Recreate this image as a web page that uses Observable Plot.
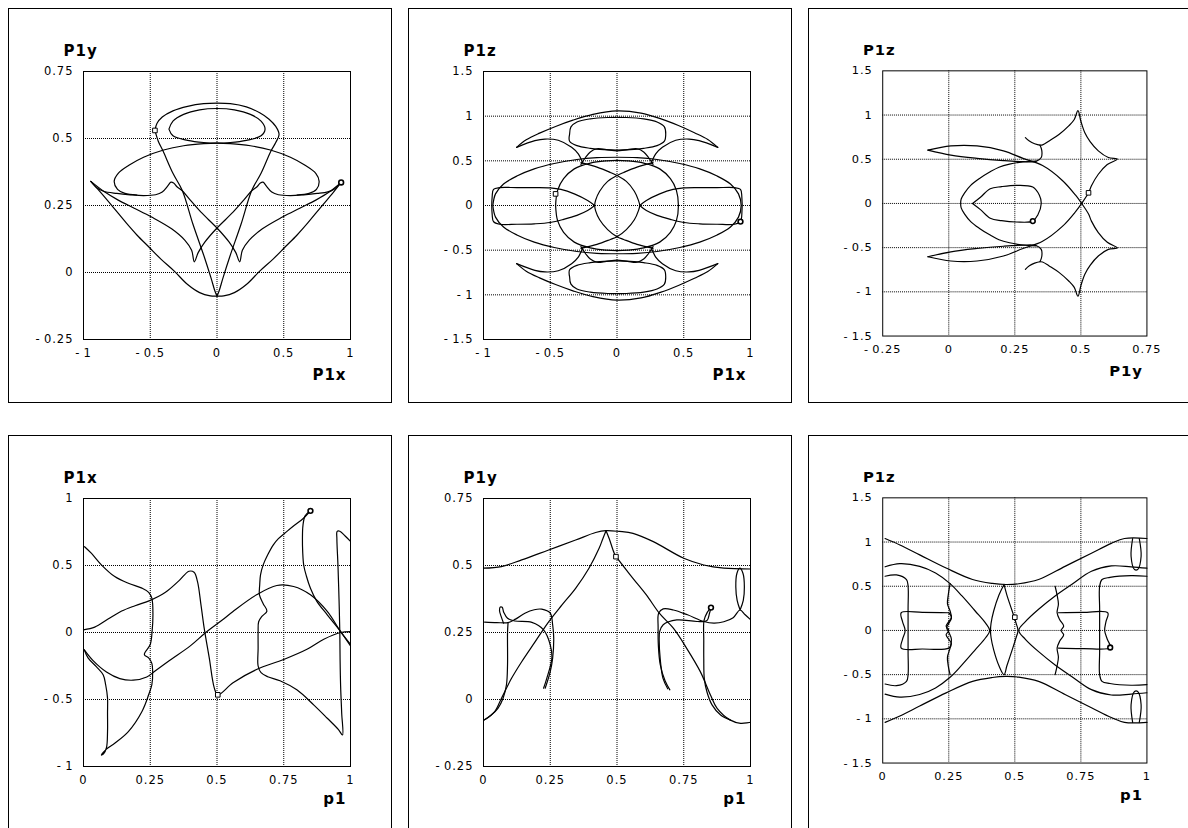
<!DOCTYPE html>
<html>
<head>
<meta charset="utf-8">
<script src="https://cdn.jsdelivr.net/npm/d3@7"></script>
<script src="https://cdn.jsdelivr.net/npm/@observablehq/plot@0.6"></script>
<style>
  html, body { margin: 0; padding: 0; background: #fff; }
  #page { position: relative; width: 1188px; height: 828px; overflow: hidden; background: #fff; }
  .box { position: absolute; width: 384px; height: 395px; box-sizing: border-box; border: 1px solid #000; }
  .chart { position: absolute; }
  .chart svg { display: block; overflow: visible; }
  .chart text { letter-spacing: 1px; }
</style>
</head>
<body>
<div id="page"></div>
<script>
// ---------- tick values ----------
const ticksUnit = [-1, -0.5, 0, 0.5, 1];
const ticksY = [-0.25, 0, 0.25, 0.5, 0.75];
const ticksZ = [-1.5, -1, -0.5, 0, 0.5, 1, 1.5];
const ticksP = [0, 0.25, 0.5, 0.75, 1];

// ---------- P1x / P1y ----------
const xyTopArc = [[-0.465,0.53],[-0.45,0.556],[-0.41,0.58],[-0.33,0.603],[-0.22,0.62],[-0.1,0.63],[0,0.632],[0.1,0.63],[0.22,0.618],[0.32,0.596],[0.39,0.572],[0.44,0.545],[0.465,0.515],[0.44,0.485],[0.405,0.454],[0.33,0.37],[0.26,0.306],[0.18,0.18],[0.095,0.058],[0.045,-0.02],[0.015,-0.07],[0,-0.088]];
const xyLeftArm = [[-0.465,0.53],[-0.44,0.49],[-0.405,0.454],[-0.33,0.37],[-0.26,0.306],[-0.18,0.18],[-0.095,0.058],[-0.045,-0.02],[-0.015,-0.07],[0,-0.088]];
const xyInnerLoop = [[-0.36,0.535],[-0.33,0.565],[-0.25,0.59],[-0.13,0.607],[0,0.612],[0.13,0.607],[0.25,0.59],[0.33,0.565],[0.36,0.535],[0.33,0.51],[0.22,0.493],[0.1,0.485],[0,0.483],[-0.1,0.485],[-0.22,0.493],[-0.33,0.51],[-0.36,0.535]];
const xyMidLoop = [[-0.6,0.289],[-0.69,0.295],[-0.745,0.31],[-0.77,0.34],[-0.74,0.37],[-0.66,0.4],[-0.55,0.43],[-0.4,0.457],[-0.25,0.473],[-0.1,0.481],[0,0.483],[0.1,0.481],[0.25,0.473],[0.4,0.457],[0.55,0.43],[0.66,0.4],[0.74,0.37],[0.765,0.34],[0.745,0.31],[0.69,0.295],[0.6,0.289]];
const xyLeftTail = [[-0.945,0.34],[-0.9,0.316],[-0.85,0.303],[-0.75,0.295],[-0.65,0.29],[-0.55,0.287],[-0.46,0.29],[-0.41,0.3],[-0.37,0.322],[-0.345,0.337],[-0.325,0.334],[-0.3,0.32],[-0.26,0.305],[-0.2,0.27],[-0.12,0.225],[0,0.166],[0.09,0.114],[0.14,0.075],[0.17,0.04],[0.19,0.083],[0.24,0.12],[0.34,0.163],[0.49,0.207],[0.62,0.24],[0.74,0.27],[0.84,0.3],[0.93,0.336]];
const xyRightTail = [[0.93,0.336],[0.88,0.312],[0.83,0.301],[0.75,0.295],[0.65,0.29],[0.55,0.287],[0.46,0.29],[0.41,0.3],[0.37,0.322],[0.345,0.337],[0.325,0.334],[0.3,0.32],[0.26,0.305],[0.2,0.27],[0.12,0.225],[0,0.166],[-0.09,0.114],[-0.14,0.075],[-0.17,0.04],[-0.19,0.083],[-0.24,0.12],[-0.34,0.163],[-0.49,0.207],[-0.62,0.24],[-0.74,0.27],[-0.84,0.3],[-0.945,0.34]];
const xyBowl = [[-0.945,0.34],[-0.87,0.298],[-0.78,0.245],[-0.68,0.185],[-0.6,0.14],[-0.51,0.095],[-0.42,0.05],[-0.32,0.005],[-0.22,-0.045],[-0.13,-0.075],[-0.05,-0.087],[0,-0.088],[0.05,-0.087],[0.13,-0.075],[0.22,-0.045],[0.32,0.005],[0.42,0.05],[0.51,0.095],[0.6,0.14],[0.68,0.185],[0.78,0.245],[0.87,0.298],[0.93,0.336]];
const xyStart = [-0.465, 0.53];
const xyEnd = [0.93, 0.336];

// ---------- P1x / P1z ----------
const xzCrescentTop = [[-0.752,0.651],[-0.68,0.735],[-0.58,0.81],[-0.46,0.885],[-0.33,0.955],[-0.18,1.02],[0,1.06],[0.18,1.035],[0.33,0.97],[0.46,0.895],[0.58,0.815],[0.68,0.74],[0.755,0.651]];
const xzCrescentBottom = [[-0.752,-0.651],[-0.68,-0.735],[-0.58,-0.81],[-0.46,-0.885],[-0.33,-0.955],[-0.18,-1.02],[0,-1.06],[0.18,-1.035],[0.33,-0.97],[0.46,-0.895],[0.58,-0.815],[0.68,-0.74],[0.755,-0.651]];
const xzHorns = [
  [[-0.752,0.651],[-0.615,0.726],[-0.54,0.744],[-0.44,0.73],[-0.34,0.651],[-0.29,0.577],[-0.254,0.465]],
  [[0.755,0.651],[0.615,0.726],[0.54,0.744],[0.44,0.73],[0.34,0.651],[0.29,0.577],[0.254,0.465]],
  [[-0.752,-0.651],[-0.615,-0.726],[-0.54,-0.744],[-0.44,-0.73],[-0.34,-0.651],[-0.29,-0.577],[-0.254,-0.465]],
  [[0.755,-0.651],[0.615,-0.726],[0.54,-0.744],[0.44,-0.73],[0.34,-0.651],[0.29,-0.577],[0.254,-0.465]]
];
const xzUpperOval = [[-0.355,0.8],[-0.345,0.88],[-0.3,0.935],[-0.2,0.97],[-0.07,0.985],[0.07,0.985],[0.2,0.97],[0.3,0.935],[0.355,0.88],[0.365,0.8],[0.355,0.72],[0.3,0.67],[0.2,0.64],[0.1,0.625],[0,0.62],[-0.1,0.625],[-0.2,0.64],[-0.3,0.67],[-0.355,0.72],[-0.355,0.8]];
const xzLowerOval = [[-0.355,-0.8],[-0.345,-0.88],[-0.3,-0.935],[-0.2,-0.97],[-0.07,-0.985],[0.07,-0.985],[0.2,-0.97],[0.3,-0.935],[0.355,-0.88],[0.365,-0.8],[0.355,-0.72],[0.3,-0.67],[0.2,-0.64],[0.1,-0.625],[0,-0.62],[-0.1,-0.625],[-0.2,-0.64],[-0.3,-0.67],[-0.355,-0.72],[-0.355,-0.8]];
const xzWaveTop = [[-0.27,0.46],[-0.235,0.54],[-0.2,0.6],[-0.15,0.635],[-0.08,0.625],[0,0.612],[0.08,0.625],[0.15,0.635],[0.2,0.6],[0.235,0.54],[0.27,0.46]];
const xzWaveBottom = [[-0.27,-0.46],[-0.235,-0.54],[-0.2,-0.6],[-0.15,-0.635],[-0.08,-0.625],[0,-0.612],[0.08,-0.625],[0.15,-0.635],[0.2,-0.6],[0.235,-0.54],[0.27,-0.46]];
const xzOuterEllipse = [[-0.93,0],[-0.91,0.13],[-0.85,0.24],[-0.75,0.33],[-0.62,0.41],[-0.47,0.47],[-0.3,0.515],[-0.15,0.535],[0,0.54],[0.15,0.535],[0.3,0.515],[0.47,0.47],[0.62,0.41],[0.75,0.33],[0.85,0.24],[0.91,0.13],[0.93,0],[0.91,-0.13],[0.85,-0.24],[0.75,-0.33],[0.62,-0.41],[0.47,-0.47],[0.3,-0.515],[0.15,-0.535],[0,-0.54],[-0.15,-0.535],[-0.3,-0.515],[-0.47,-0.47],[-0.62,-0.41],[-0.75,-0.33],[-0.85,-0.24],[-0.91,-0.13],[-0.93,0]];
const xzInnerEllipse = [[-0.46,0],[-0.445,0.17],[-0.4,0.3],[-0.32,0.41],[-0.2,0.475],[-0.08,0.5],[0,0.505],[0.08,0.5],[0.2,0.475],[0.32,0.41],[0.4,0.3],[0.445,0.17],[0.46,0],[0.445,-0.17],[0.4,-0.3],[0.32,-0.41],[0.2,-0.475],[0.08,-0.5],[0,-0.505],[-0.08,-0.5],[-0.2,-0.475],[-0.32,-0.41],[-0.4,-0.3],[-0.445,-0.17],[-0.46,0]];
const xzLensLeft = [[0.27,0.48],[0.15,0.43],[0.05,0.37],[0,0.335],[-0.07,0.27],[-0.13,0.16],[-0.16,0.06],[-0.167,0],[-0.16,-0.06],[-0.13,-0.16],[-0.07,-0.27],[0,-0.35],[0.05,-0.38],[0.15,-0.435],[0.27,-0.48]];
const xzLensRight = [[-0.27,0.48],[-0.15,0.43],[-0.05,0.37],[0,0.335],[0.07,0.27],[0.13,0.16],[0.16,0.06],[0.17,0],[0.16,-0.06],[0.13,-0.16],[0.07,-0.27],[0,-0.35],[-0.05,-0.38],[-0.15,-0.435],[-0.27,-0.48]];
const xzLeftBand = [[-0.167,0],[-0.22,0.056],[-0.32,0.13],[-0.42,0.18],[-0.5,0.197],[-0.62,0.2],[-0.75,0.2],[-0.88,0.2],[-0.925,0.18],[-0.935,0.1],[-0.935,-0.1],[-0.925,-0.18],[-0.88,-0.21],[-0.75,-0.21],[-0.62,-0.205],[-0.5,-0.19],[-0.4,-0.155],[-0.3,-0.11],[-0.22,-0.056],[-0.167,0]];
const xzRightBand = [[0.17,0],[0.22,0.056],[0.32,0.13],[0.42,0.18],[0.5,0.197],[0.62,0.2],[0.75,0.2],[0.88,0.2],[0.925,0.18],[0.935,0.1],[0.935,-0.1],[0.925,-0.18],[0.88,-0.21],[0.75,-0.21],[0.62,-0.205],[0.5,-0.19],[0.4,-0.155],[0.3,-0.11],[0.22,-0.056],[0.17,0]];
const xzStart = [-0.46, 0.13];
const xzEnd = [0.925, -0.18];

// ---------- P1y / P1z ----------
const yzStarUp = [[0.29,0.745],[0.305,0.705],[0.325,0.675],[0.345,0.66],[0.355,0.662],[0.38,0.707],[0.417,0.78],[0.455,0.88],[0.475,0.95],[0.489,1.05],[0.5,0.93],[0.515,0.8],[0.535,0.7],[0.566,0.595],[0.604,0.52],[0.638,0.502],[0.6,0.44],[0.566,0.33],[0.54,0.2],[0.529,0.12],[0.503,0],[0.48,-0.093],[0.43,-0.26],[0.355,-0.428],[0.281,-0.51],[0.207,-0.595],[0.107,-0.651],[0.008,-0.651],[-0.079,-0.603]];
const yzStarDown = [[0.29,-0.745],[0.305,-0.705],[0.325,-0.675],[0.345,-0.66],[0.355,-0.662],[0.38,-0.707],[0.417,-0.78],[0.455,-0.88],[0.475,-0.95],[0.489,-1.05],[0.5,-0.93],[0.515,-0.8],[0.535,-0.7],[0.566,-0.595],[0.604,-0.52],[0.638,-0.502],[0.6,-0.44],[0.566,-0.33],[0.54,-0.2],[0.529,-0.12],[0.503,0],[0.48,0.093],[0.43,0.26],[0.355,0.428],[0.281,0.51],[0.207,0.595],[0.107,0.651],[0.008,0.651],[-0.079,0.603]];
const yzWedgeUp = [[-0.079,0.603],[0.008,0.547],[0.107,0.51],[0.207,0.484],[0.281,0.472],[0.33,0.476],[0.35,0.52],[0.352,0.6],[0.345,0.66]];
const yzWedgeDown = [[-0.079,-0.603],[0.008,-0.547],[0.107,-0.51],[0.207,-0.484],[0.281,-0.472],[0.33,-0.476],[0.35,-0.52],[0.352,-0.6],[0.345,-0.66]];
const yzOuterArc = [[0.33,0.48],[0.28,0.47],[0.23,0.445],[0.19,0.41],[0.155,0.355],[0.115,0.28],[0.083,0.205],[0.06,0.12],[0.047,0.05],[0.045,0],[0.047,-0.05],[0.06,-0.12],[0.083,-0.205],[0.115,-0.28],[0.155,-0.355],[0.19,-0.41],[0.23,-0.445],[0.28,-0.47],[0.33,-0.48]];
const yzInnerLoop = [[0.09,0],[0.12,0.07],[0.157,0.167],[0.2,0.19],[0.256,0.205],[0.318,0.186],[0.343,0.093],[0.35,0],[0.337,-0.13],[0.318,-0.2],[0.256,-0.21],[0.2,-0.195],[0.157,-0.167],[0.12,-0.07],[0.09,0]];
const yzStart = [0.529, 0.12];
const yzEnd = [0.318, -0.2];

// ---------- p1 / P1x ----------
const pxA = [[0.004,0.64],[0.03,0.59],[0.067,0.505],[0.117,0.417],[0.168,0.367],[0.219,0.331],[0.244,0.3],[0.256,0.256],[0.26,0.13],[0.257,0.01],[0.25,-0.09],[0.228,-0.165],[0.244,-0.19],[0.256,-0.23],[0.259,-0.29],[0.256,-0.39],[0.244,-0.465],[0.219,-0.589],[0.168,-0.739],[0.117,-0.826],[0.086,-0.87],[0.067,-0.915],[0.075,-0.905],[0.086,-0.86],[0.09,-0.74],[0.09,-0.6],[0.09,-0.49],[0.083,-0.39],[0.074,-0.317],[0.048,-0.255],[0.017,-0.19],[0.003,-0.13]];
const pxB = [[0.003,-0.13],[0.035,-0.208],[0.086,-0.295],[0.136,-0.344],[0.186,-0.356],[0.237,-0.332],[0.268,-0.287],[0.325,-0.205],[0.4,-0.1],[0.458,0.0],[0.521,0.095],[0.56,0.157],[0.648,0.281],[0.724,0.351],[0.787,0.343],[0.85,0.281],[0.913,0.157],[0.963,0.007],[1,-0.088]];
const pxC = [[0,0.02],[0.042,0.04],[0.092,0.1],[0.143,0.16],[0.193,0.2],[0.25,0.24],[0.307,0.3],[0.357,0.385],[0.395,0.457],[0.414,0.45],[0.427,0.38],[0.44,0.206],[0.452,0.032],[0.471,-0.19],[0.49,-0.415],[0.503,-0.465],[0.56,-0.375],[0.648,-0.276],[0.75,-0.201],[0.837,-0.125],[0.9,-0.05],[0.963,0.0],[1,0.007]];
const pxD = [[0.85,0.908],[0.824,0.853],[0.79,0.8],[0.761,0.753],[0.73,0.7],[0.711,0.654],[0.69,0.58],[0.673,0.505],[0.663,0.43],[0.66,0.356],[0.659,0.281],[0.673,0.215],[0.687,0.16],[0.668,0.12],[0.656,0.08],[0.654,0.007],[0.654,-0.118],[0.654,-0.25],[0.665,-0.3],[0.69,-0.33],[0.736,-0.36],[0.799,-0.428],[0.862,-0.54],[0.913,-0.64],[0.955,-0.725],[0.97,-0.765],[0.967,-0.6],[0.963,-0.4],[0.961,-0.2],[0.96,0.0],[0.957,0.25],[0.953,0.505],[0.949,0.7],[0.95,0.755],[0.96,0.756],[0.98,0.72],[1,0.68]];
const pxE = [[0.85,0.908],[0.83,0.87],[0.822,0.8],[0.82,0.7],[0.821,0.6],[0.825,0.5],[0.835,0.42],[0.85,0.33],[0.874,0.232],[0.913,0.132],[0.963,0.007],[1,-0.1]];
const pxStart = [0.503, -0.465];
const pxEnd = [0.85, 0.908];

// ---------- p1 / P1y ----------
const pyTop = [[0,0.49],[0.067,0.496],[0.143,0.521],[0.244,0.558],[0.345,0.595],[0.42,0.623],[0.459,0.63],[0.509,0.627],[0.56,0.62],[0.636,0.589],[0.75,0.527],[0.825,0.502],[0.9,0.49],[1,0.487]];
const pyPeakLeft = [[0.459,0.63],[0.447,0.6],[0.433,0.564],[0.395,0.49],[0.345,0.415],[0.294,0.353],[0.244,0.29],[0.193,0.215],[0.143,0.141],[0.105,0.079],[0.067,0.004],[0.042,-0.045],[0.004,-0.076]];
const pyPeakRight = [[0.459,0.63],[0.471,0.6],[0.49,0.545],[0.499,0.53],[0.559,0.453],[0.61,0.39],[0.66,0.32],[0.711,0.266],[0.761,0.191],[0.812,0.104],[0.85,0.017],[0.875,-0.033],[0.925,-0.077],[0.963,-0.089],[1,-0.085]];
const pyLeftStem = [[0.092,0.287],[0.09,0.25],[0.09,0.13],[0.086,0.055],[0.073,0.004],[0.054,-0.033],[0.029,-0.058],[0.004,-0.076]];
const pyLeftHump = [[0.004,0.289],[0.05,0.287],[0.092,0.287],[0.12,0.3],[0.155,0.322],[0.19,0.335],[0.218,0.337],[0.25,0.322],[0.259,0.279],[0.263,0.229],[0.259,0.154],[0.25,0.104],[0.231,0.042]];
const pyLeftLoop = [[0.075,0.285],[0.066,0.31],[0.06,0.332],[0.063,0.345],[0.07,0.344],[0.076,0.325],[0.09,0.303],[0.117,0.293],[0.181,0.288],[0.225,0.26],[0.25,0.204],[0.256,0.154],[0.237,0.079],[0.225,0.042]];
const pyRightHump = [[0.698,0.036],[0.68,0.07],[0.662,0.13],[0.655,0.2],[0.654,0.27],[0.656,0.322],[0.673,0.338],[0.711,0.334],[0.764,0.316],[0.825,0.291],[0.863,0.285],[0.9,0.29],[0.935,0.305],[0.961,0.334],[0.98,0.316],[1,0.298]];
const pyRightLoop = [[0.69,0.04],[0.672,0.08],[0.662,0.15],[0.658,0.22],[0.66,0.254],[0.673,0.279],[0.724,0.297],[0.8,0.291],[0.837,0.295],[0.846,0.32],[0.852,0.343]];
const pyRightStem = [[0.852,0.343],[0.838,0.325],[0.826,0.295],[0.825,0.22],[0.825,0.153],[0.827,0.078],[0.837,0.028],[0.856,-0.02],[0.888,-0.058],[0.925,-0.077]];
const pyEdgeOval = [[0.961,0.334],[0.95,0.37],[0.945,0.42],[0.949,0.47],[0.96,0.49],[0.972,0.47],[0.977,0.42],[0.973,0.37],[0.961,0.334]];
const pyStart = [0.496, 0.533];
const pyEnd = [0.852, 0.343];

// ---------- p1 / P1z ----------
const pzTop = [[0.009,1.04],[0.065,0.967],[0.14,0.855],[0.24,0.706],[0.34,0.576],[0.415,0.532],[0.465,0.52],[0.515,0.528],[0.59,0.576],[0.69,0.725],[0.79,0.874],[0.865,0.985],[0.915,1.04],[1,1.04]];
const pzBottom = [[0.009,-1.04],[0.065,-0.967],[0.14,-0.855],[0.24,-0.706],[0.34,-0.576],[0.415,-0.532],[0.465,-0.52],[0.515,-0.528],[0.59,-0.576],[0.69,-0.725],[0.79,-0.874],[0.865,-0.985],[0.915,-1.04],[1,-1.04]];
const pzLeftBracket = [[0.009,0.72],[0.065,0.755],[0.14,0.725],[0.2,0.65],[0.255,0.53],[0.3,0.39],[0.35,0.22],[0.39,0.08],[0.405,0],[0.39,-0.08],[0.35,-0.22],[0.3,-0.39],[0.255,-0.53],[0.2,-0.65],[0.14,-0.725],[0.065,-0.755],[0.009,-0.72]];
const pzRightBracket = [[1,0.705],[0.94,0.72],[0.865,0.73],[0.79,0.67],[0.715,0.52],[0.6525,0.39],[0.59,0.24],[0.54,0.1],[0.515,0],[0.54,-0.1],[0.59,-0.24],[0.6525,-0.39],[0.715,-0.52],[0.79,-0.67],[0.865,-0.73],[0.94,-0.72],[1,-0.705]];
const pzLens = [[0.459,0.52],[0.44,0.4],[0.42,0.22],[0.41,0.08],[0.408,0],[0.41,-0.08],[0.42,-0.22],[0.44,-0.4],[0.459,-0.5],[0.47,-0.4],[0.49,-0.22],[0.505,-0.08],[0.512,0],[0.505,0.08],[0.49,0.22],[0.47,0.4],[0.459,0.52]];
const pzLeftStem = [[0.255,0.53],[0.248,0.4],[0.245,0.3],[0.255,0.22],[0.26,0.14],[0.25,0.08],[0.242,0.03],[0.25,-0.02],[0.26,-0.1],[0.255,-0.2],[0.245,-0.3],[0.248,-0.4],[0.255,-0.5]];
const pzLeftBox = [[0.25,0.2],[0.15,0.205],[0.07,0.2],[0.075,0.1],[0.085,0],[0.075,-0.1],[0.07,-0.2],[0.15,-0.21],[0.25,-0.2],[0.26,-0.15],[0.25,-0.1],[0.24,-0.05],[0.25,0],[0.24,0.05],[0.25,0.1],[0.26,0.15],[0.25,0.2]];
const pzLeftFence = [[0.009,0.613],[0.052,0.628],[0.09,0.576],[0.096,0.5],[0.096,0.25],[0.096,0],[0.096,-0.25],[0.096,-0.5],[0.09,-0.576],[0.052,-0.625],[0.009,-0.606]];
const pzRightStem = [[0.6525,0.5],[0.66,0.4],[0.665,0.3],[0.66,0.2],[0.67,0.12],[0.685,0.05],[0.675,0],[0.685,-0.05],[0.67,-0.12],[0.66,-0.2],[0.665,-0.3],[0.66,-0.4],[0.6525,-0.5]];
const pzRightBox = [[0.665,0.2],[0.76,0.205],[0.852,0.2],[0.845,0.1],[0.84,0],[0.85,-0.1],[0.861,-0.193],[0.76,-0.205],[0.665,-0.2]];
const pzRightFence = [[1,0.613],[0.94,0.62],[0.86,0.6],[0.83,0.576],[0.821,0.5],[0.821,0.25],[0.821,0],[0.821,-0.25],[0.821,-0.5],[0.83,-0.576],[0.86,-0.6],[0.94,-0.62],[1,-0.613]];
const pzCornerUp = [[0.946,1.04],[0.94,0.84],[0.953,0.69],[0.965,0.69],[0.978,0.84],[0.971,1.04]];
const pzCornerDown = [[0.946,-1.04],[0.94,-0.84],[0.953,-0.69],[0.965,-0.69],[0.978,-0.84],[0.971,-1.04]];
const pzStart = [0.5, 0.149];
const pzEnd = [0.861, -0.193];

// ---------- panel layout ----------
const panels = [
  {left: 8, top: 8, xd: [-1, 1], yd: [-0.25, 0.75], xt: ticksUnit, yt: ticksY, xl: "P1x", yl: "P1y", xlDy: 40,
   curves: [xyTopArc, xyLeftArm, xyInnerLoop, xyMidLoop, xyLeftTail, xyRightTail, xyBowl], start: xyStart, end: xyEnd},
  {left: 408, top: 8, xd: [-1, 1], yd: [-1.5, 1.5], xt: ticksUnit, yt: ticksZ, xl: "P1x", yl: "P1z", xlDy: 40,
   curves: [xzCrescentTop, xzCrescentBottom, ...xzHorns, xzUpperOval, xzLowerOval, xzWaveTop, xzWaveBottom, xzOuterEllipse, xzInnerEllipse, xzLensLeft, xzLensRight, xzLeftBand, xzRightBand], start: xzStart, end: xzEnd},
  {left: 808, top: 8, xd: [-0.25, 0.75], yd: [-1.5, 1.5], xt: ticksY, yt: ticksZ, xl: "P1y", yl: "P1z", xlDy: 40,
   curves: [yzStarUp, yzStarDown, yzWedgeUp, yzWedgeDown, yzOuterArc, yzInnerLoop], start: yzStart, end: yzEnd},
  {left: 8, top: 435, xd: [0, 1], yd: [-1, 1], xt: ticksP, yt: ticksUnit, xl: "p1", yl: "P1x", xlDy: 37,
   curves: [pxA, pxB, pxC, pxD, pxE], start: pxStart, end: pxEnd},
  {left: 408, top: 435, xd: [0, 1], yd: [-0.25, 0.75], xt: ticksP, yt: ticksY, xl: "p1", yl: "P1y", xlDy: 37,
   curves: [pyTop, pyPeakLeft, pyPeakRight, pyLeftStem, pyLeftHump, pyLeftLoop, pyRightHump, pyRightLoop, pyRightStem, pyEdgeOval], start: pyStart, end: pyEnd},
  {left: 808, top: 435, xd: [0, 1], yd: [-1.5, 1.5], xt: ticksP, yt: ticksZ, xl: "p1", yl: "P1z", xlDy: 37,
   curves: [pzTop, pzBottom, pzLeftBracket, pzRightBracket, pzLens, pzLeftStem, pzLeftBox, pzLeftFence, pzRightStem, pzRightBox, pzRightFence, pzCornerUp, pzCornerDown], start: pzStart, end: pzEnd}
];

const fmt = d => d < 0 ? "-\u2009" + String(-d) : String(d);
const page = document.getElementById("page");

for (const p of panels) {
  const box = document.createElement("div");
  box.className = "box";
  box.style.left = p.left + "px";
  box.style.top = p.top + "px";
  page.appendChild(box);

  const rows = [];
  p.curves.forEach((pts, i) => pts.forEach(([a, b]) => rows.push({seg: i, a, b})));
  const innerX = p.xt.slice(1, -1);
  const innerY = p.yt.slice(1, -1);
  const dotted = {stroke: "#000", strokeOpacity: 1, strokeWidth: 1, strokeDasharray: "1,1"};

  const svg = Plot.plot({
    width: 384, height: 395,
    marginLeft: 75, marginRight: 42, marginTop: 63, marginBottom: 64,
    style: {fontFamily: "'DejaVu Sans', sans-serif", fontSize: "11.5px", color: "#000", background: "transparent"},
    x: {domain: p.xd, ticks: p.xt, tickFormat: fmt, tickSize: 0, tickPadding: 9, label: null},
    y: {domain: p.yd, ticks: p.yt, tickFormat: fmt, tickSize: 0, tickPadding: 10, label: null},
    marks: [
      Plot.gridX(innerX, dotted),
      Plot.gridY(innerY, dotted),
      Plot.line(rows, {x: "a", y: "b", z: "seg", curve: "catmull-rom", stroke: "#000", strokeWidth: 1.2}),
      Plot.dot([p.start], {x: d => d[0], y: d => d[1], symbol: "square", r: 2.6, stroke: "#000", fill: "#fff", strokeWidth: 1}),
      Plot.dot([p.end], {x: d => d[0], y: d => d[1], symbol: "circle", r: 2.4, stroke: "#000", fill: "#fff", strokeWidth: 1.6}),
      Plot.frame({stroke: "#000"}),
      Plot.text([p.yl], {text: d => d, frameAnchor: "top-left", dx: -20, dy: -16, textAnchor: "start", lineAnchor: "bottom", fontWeight: "bold", fontSize: 15}),
      Plot.text([p.xl], {text: d => d, frameAnchor: "bottom-right", dx: -4, dy: p.xlDy, textAnchor: "end", lineAnchor: "bottom", fontWeight: "bold", fontSize: 15})
    ]
  });
  const holder = document.createElement("div");
  holder.className = "chart";
  holder.style.left = p.left + "px";
  holder.style.top = p.top + "px";
  holder.appendChild(svg);
  page.appendChild(holder);
}
</script>
</body>
</html>
